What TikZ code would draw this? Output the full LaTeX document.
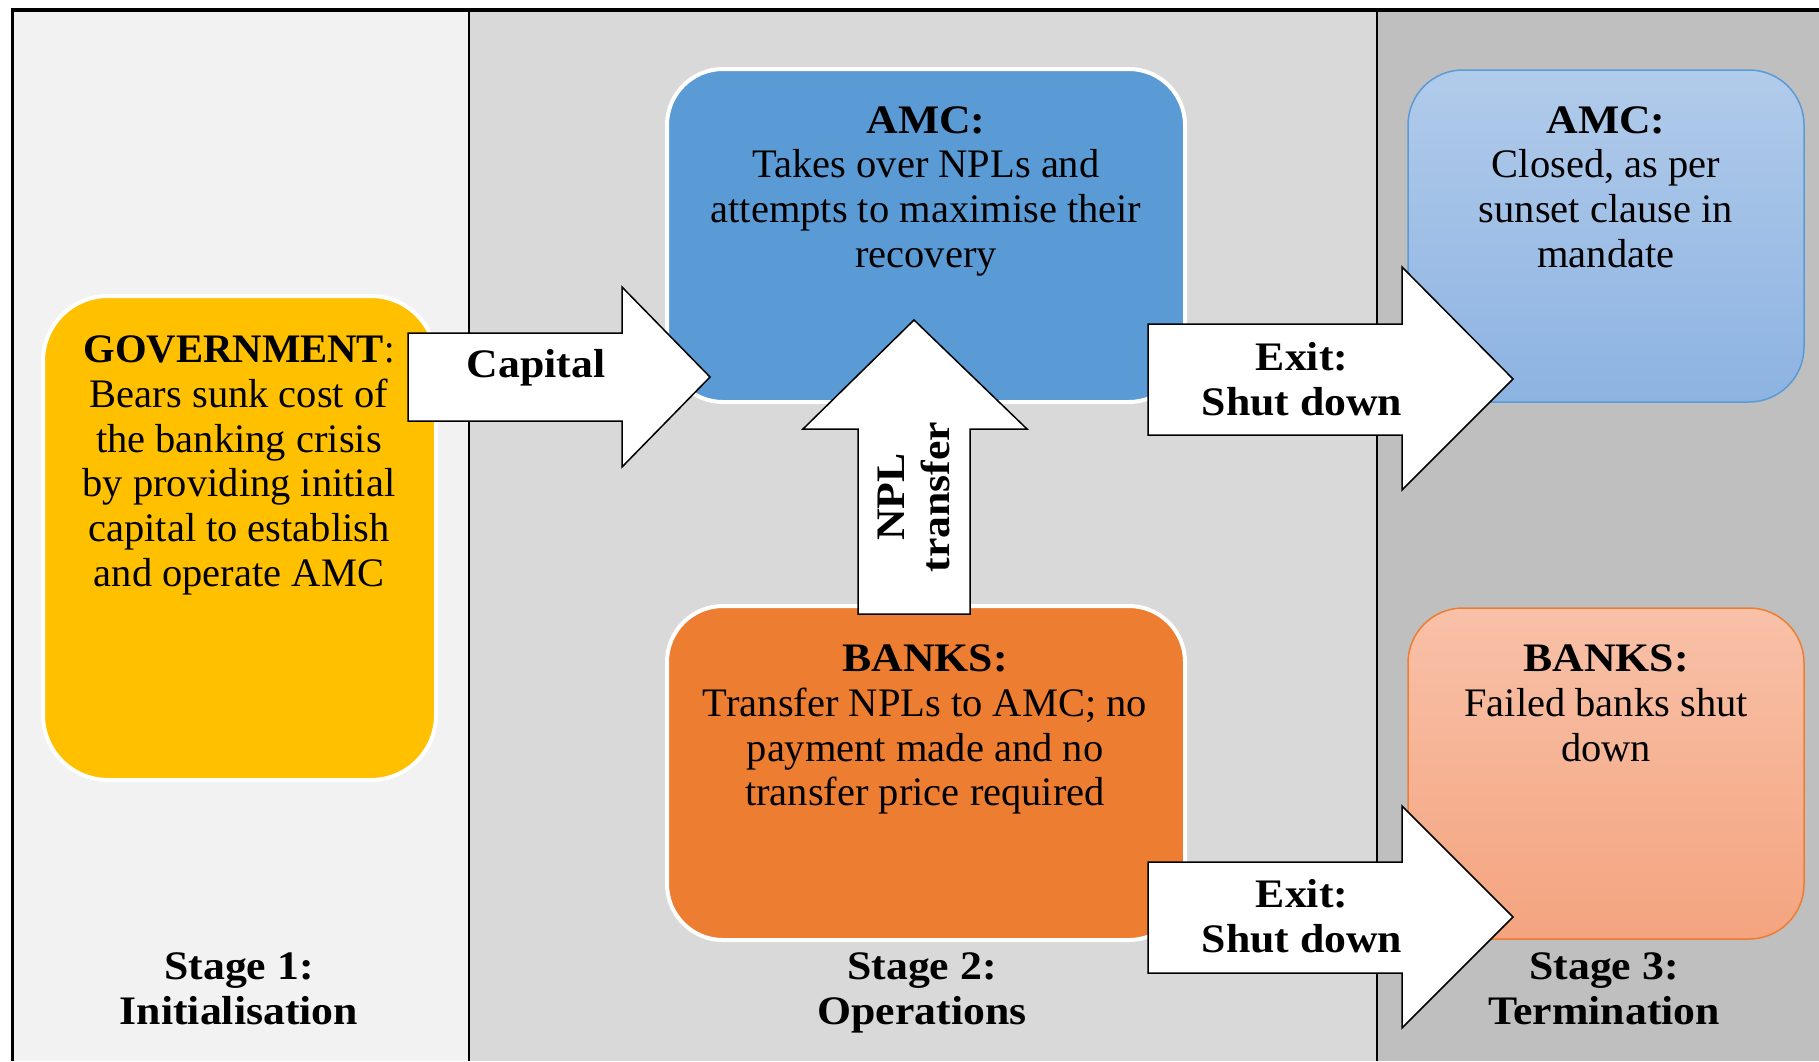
\documentclass[tikz,border=0pt]{standalone}
\usepackage{fontspec}
\setmainfont{Liberation Serif}[BoldFeatures={FakeStretch=1.08}]
\definecolor{panelA}{HTML}{F2F2F2}
\definecolor{panelB}{HTML}{D9D9D9}
\definecolor{panelC}{HTML}{BFBFBF}
\definecolor{govfill}{HTML}{FFC000}
\definecolor{amcfill}{HTML}{5B9BD5}
\definecolor{bankfill}{HTML}{ED7D31}
\definecolor{amcTop}{HTML}{B1CBEA}
\definecolor{amcBot}{HTML}{8DB3E2}
\definecolor{bankTop}{HTML}{F8C1A8}
\definecolor{bankBot}{HTML}{F4A47F}
\tikzset{
  stagebox/.style={rounded corners=#1, line width=4pt, draw=white, inner sep=0pt},
  fadebox/.style={rounded corners=55pt, line width=1.5pt, inner sep=0pt},
  blockarrow/.style={draw=black, fill=white, line width=1.5pt, line join=miter},
  txt/.style={align=center, inner sep=0pt, font=\fontsize{40.5}{44.8}\selectfont},
  hdr/.style={align=center, inner sep=0pt, font=\fontsize{40.5}{44.8}\selectfont\bfseries},
}
\begin{document}
\begin{tikzpicture}[x=1pt,y=-1pt]
\useasboundingbox (0,0) rectangle (1819,1061);
\fill[white] (0,0) rectangle (1819,1061);
% panels
\fill[panelA] (12,10) rectangle (469,1061);
\fill[panelB] (469,10) rectangle (1377,1061);
\fill[panelC] (1377,10) rectangle (1819,1061);
\draw[line width=2.5pt] (469,10) -- (469,1061);
\draw[line width=2.5pt] (1377,10) -- (1377,1061);
\draw[line width=3pt] (12,1061) -- (12,9);
\draw[line width=4pt] (10.5,10) -- (1819,10);
% boxes
\node[stagebox=65pt, fill=govfill, minimum width=393pt, minimum height=484pt] (gov) at (239.5,538) {};
\node[stagebox=56pt, fill=amcfill, minimum width=518pt, minimum height=333pt] (amc) at (926,235.5) {};
\node[stagebox=56pt, fill=bankfill, minimum width=518pt, minimum height=334pt] (banks) at (926,773) {};
\node[fadebox, draw=amcfill, top color=amcTop, bottom color=amcBot, minimum width=396pt, minimum height=332pt] (amcend) at (1606,236) {};
\node[fadebox, draw=bankfill, top color=bankTop, bottom color=bankBot, minimum width=396pt, minimum height=331pt] (banksend) at (1606,773.5) {};
% block arrows
\draw[blockarrow] (408,333) -- (622,333) -- (622,287) -- (710,377) -- (622,467) -- (622,421) -- (408,421) -- cycle;
\draw[blockarrow] (858,614) -- (858,429) -- (803,429) -- (914,320) -- (1027,429) -- (970,429) -- (970,614) -- cycle;
\draw[blockarrow] (1148,324) -- (1402,324) -- (1402,267) -- (1513,379) -- (1402,490) -- (1402,435) -- (1148,435) -- cycle;
\draw[blockarrow] (1148,862) -- (1402,862) -- (1402,806) -- (1513,917) -- (1402,1028) -- (1402,973) -- (1148,973) -- cycle;
% texts
\node[txt, anchor=north] (govtxt) at (239,335.5) {\scalebox{0.93}[1]{\textbf{GOVERNMENT}:}\\Bears sunk cost of\\the banking crisis\\by providing initial\\capital to establish\\and operate AMC};
\node[txt, anchor=north] (amctxt) at (926,106) {\textbf{AMC:}\\Takes over NPLs and\\attempts to maximise their\\recovery};
\node[txt, anchor=north] (bankstxt) at (925,644.5) {\textbf{BANKS:}\\Transfer NPLs to AMC; no\\payment made and no\\transfer price required};
\node[txt, anchor=north] (amcendtxt) at (1606,106) {\textbf{AMC:}\\Closed, as per\\sunset clause in\\mandate};
\node[txt, anchor=north] (banksendtxt) at (1606,644.5) {\textbf{BANKS:}\\Failed banks shut\\down};
\node[hdr, anchor=north] (stageone) at (239,952.5) {Stage 1:\\Initialisation};
\node[hdr, anchor=north] (stagetwo) at (922,952.5) {Stage 2:\\Operations};
\node[hdr, anchor=north] (stagethree) at (1604,952.5) {Stage 3:\\Termination};
\node[hdr, anchor=base] (captxt) at (536,377.5) {Capital};
\node[hdr, anchor=north] (exitonetxt) at (1302,342.5) {Exit:\\Shut down};
\node[hdr, anchor=north] (exittwotxt) at (1302,879.5) {Exit:\\Shut down};
\node[hdr, rotate=90] (npltxt) at (914,497) {NPL\\transfer};
\end{tikzpicture}
\end{document}
